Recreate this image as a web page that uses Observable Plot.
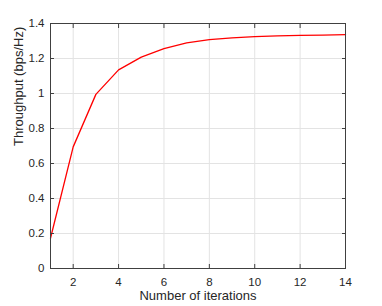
<!DOCTYPE html>
<html>
<head>
<meta charset="utf-8">
<script src="https://cdn.jsdelivr.net/npm/d3@7"></script>
<script src="https://cdn.jsdelivr.net/npm/@observablehq/plot@0.6"></script>
<style>
  html, body { margin: 0; padding: 0; background: #fff; }
  #chart svg { display: block; }
</style>
</head>
<body>
<div id="chart"></div>
<script>
const iterations = [1, 2, 3, 4, 5, 6, 7, 8, 9, 10, 11, 12, 13, 14];
const throughput = [0.173, 0.695, 0.995, 1.135, 1.208, 1.256, 1.289, 1.308, 1.318, 1.325, 1.329, 1.332, 1.334, 1.336];
const xTicks = [2, 4, 6, 8, 10, 12, 14];
const yTicks = [0, 0.2, 0.4, 0.6, 0.8, 1, 1.2, 1.4];

const data = iterations.map((x, i) => ({x, y: throughput[i]}));
const axisColor = "#404040";
const textColor = "#262626";

const chart = Plot.plot({
  width: 382,
  height: 306,
  marginLeft: 50,
  marginRight: 37,
  marginTop: 23,
  marginBottom: 38,
  style: {fontFamily: "Liberation Sans, Arial, sans-serif", fontSize: "11px", color: textColor, background: "#fff"},
  x: {domain: [1, 14]},
  y: {domain: [0, 1.4]},
  marks: [
    Plot.gridX(xTicks, {stroke: "#e3e3e3", strokeOpacity: 1}),
    Plot.gridY(yTicks, {stroke: "#e3e3e3", strokeOpacity: 1}),
    Plot.line(data, {x: "x", y: "y", stroke: "#ff0000", strokeWidth: 1.3}),
    Plot.frame({stroke: axisColor, strokeWidth: 1}),
    Plot.axisX(xTicks, {anchor: "bottom", tickSize: -4, tickPadding: 13, stroke: axisColor, fill: textColor, fontSize: 11.5, label: null}),
    Plot.axisX(xTicks, {anchor: "top", tickSize: -4, stroke: axisColor, text: null, label: null}),
    Plot.axisY(yTicks, {anchor: "left", tickSize: -4, tickPadding: 10, stroke: axisColor, fill: textColor, fontSize: 11.5, tickFormat: d => String(d), label: null}),
    Plot.axisY(yTicks, {anchor: "right", tickSize: -4, stroke: axisColor, text: null, label: null}),
    Plot.text(["Number of iterations"], {frameAnchor: "bottom", dy: 31, fill: textColor, fontSize: 13}),
    Plot.text(["Throughput (bps/Hz)"], {frameAnchor: "left", dx: -32, rotate: -90, fill: textColor, fontSize: 13})
  ]
});
document.getElementById("chart").appendChild(chart);
</script>
</body>
</html>
